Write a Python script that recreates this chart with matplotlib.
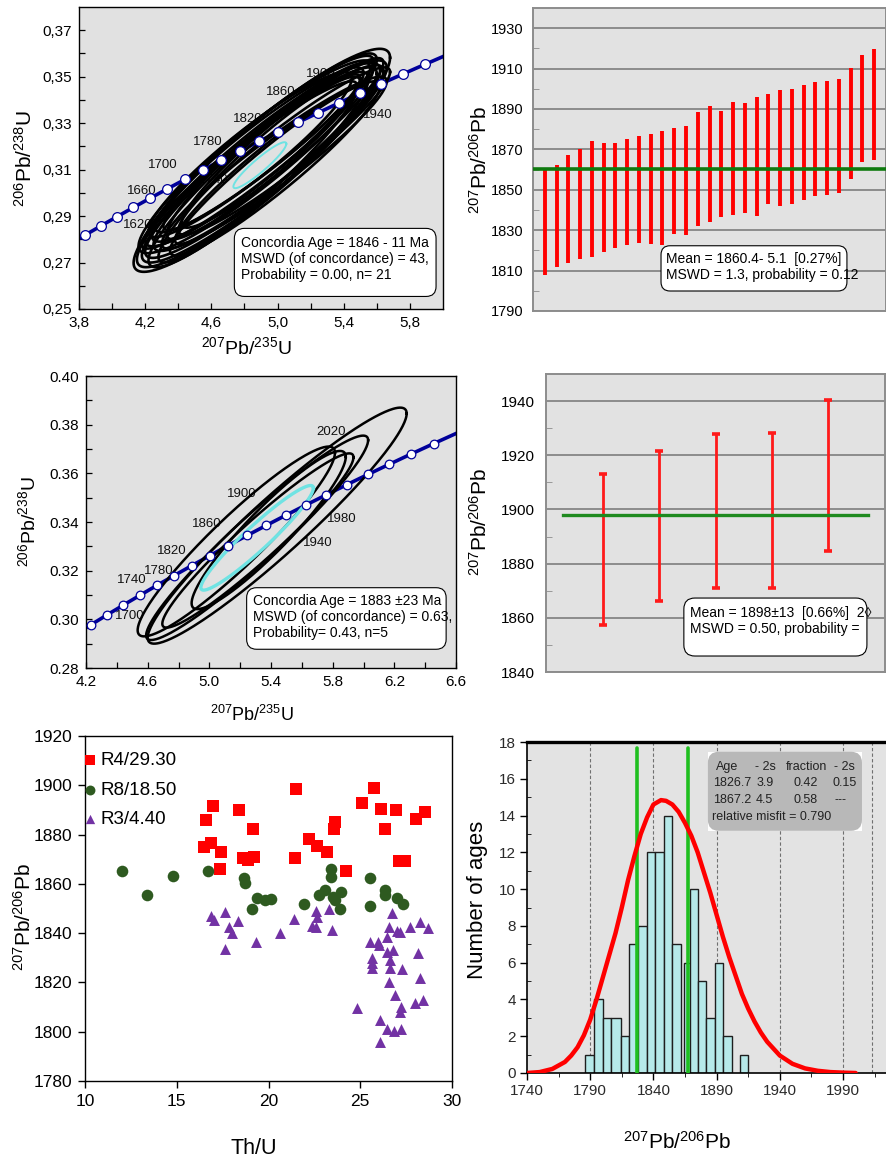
import numpy as np
import matplotlib
matplotlib.use('Agg')
from matplotlib import pyplot as plt
from matplotlib.patches import FancyBboxPatch, Rectangle

W, H = 887, 1159

plt.rcParams['font.family'] = ['Liberation Sans', 'DejaVu Sans']
plt.rcParams['mathtext.fontset'] = 'custom'
plt.rcParams['mathtext.rm'] = 'Liberation Sans'
plt.rcParams['mathtext.it'] = 'Liberation Sans:italic'
plt.rcParams['mathtext.bf'] = 'Liberation Sans:bold'

# decay constants (1/yr) for the concordia curve
LAMBDA_238 = 1.55125e-10
LAMBDA_235 = 9.8485e-10

# ---- panel a: concordia, 21 analyses ----
conc_ages_a = list(range(1600, 1961, 20))
conc_labels_a = ['1620', '1660', '1700', '1740', '1780', '1820', '1860', '1900', '1940']
conc_label_x_a = [4.156, 4.177, 4.308, 4.616, 4.581, 4.818, 5.017, 5.26, 5.604]
conc_label_y_a = [0.286, 0.301, 0.3118, 0.3056, 0.3217, 0.332, 0.3433, 0.3512, 0.3337]
# error ellipses: centre, half extents and correlation
ell_cx_a = [4.905, 4.885, 4.92, 4.90, 4.885, 4.87, 4.945, 4.89, 4.86, 4.98, 4.945, 4.835, 4.985, 4.92, 5.04, 4.83, 4.96, 4.92, 4.905, 5.03]
ell_cy_a = [0.314, 0.312, 0.3135, 0.313, 0.310, 0.3155, 0.315, 0.310, 0.3155, 0.313, 0.318, 0.3165, 0.3105, 0.321, 0.318, 0.312, 0.312, 0.3195, 0.3175, 0.3215]
ell_sx_a = [0.775, 0.735, 0.74, 0.70, 0.665, 0.71, 0.695, 0.61, 0.66, 0.68, 0.615, 0.615, 0.635, 0.66, 0.64, 0.65, 0.58, 0.68, 0.595, 0.61]
ell_sy_a = [0.048, 0.044, 0.0435, 0.041, 0.042, 0.0415, 0.040, 0.040, 0.0385, 0.037, 0.038, 0.0355, 0.0375, 0.038, 0.036, 0.036, 0.034, 0.0405, 0.0335, 0.0365]
ell_rho_a = [0.92, 0.925, 0.93, 0.935, 0.93, 0.925, 0.935, 0.94, 0.935, 0.945, 0.94, 0.93, 0.945, 0.94, 0.945, 0.95, 0.95, 0.935, 0.95, 0.945]
cyan_a = (4.893, 0.3119, 0.16, 0.0099, 0.93)
box_lines_a = ['Concordia Age = 1846 - 11 Ma', 'MSWD (of concordance) = 43,', 'Probability = 0.00, n= 21']

# ---- panel b: 207Pb/206Pb ages, 29 analyses ----
b_low = [1807.6, 1811.7, 1814.0, 1815.5, 1816.7, 1819.0, 1821.1, 1822.6, 1823.5, 1823.0,
         1822.6, 1827.9, 1827.4, 1832.2, 1834.2, 1836.6, 1837.5, 1838.7, 1837.1, 1843.2,
         1841.9, 1843.0, 1844.8, 1846.7, 1847.2, 1848.6, 1855.3, 1863.7, 1864.7]
b_high = [1860.5, 1862.1, 1867.2, 1870.2, 1874.2, 1873.2, 1873.2, 1875.2, 1876.6, 1877.6,
          1879.0, 1880.6, 1881.6, 1888.6, 1891.6, 1889.2, 1893.5, 1893.2, 1895.9, 1897.5,
          1899.3, 1900.0, 1902.0, 1903.5, 1904.1, 1905.0, 1910.4, 1916.9, 1919.9]
b_mean = 1860.4
box_lines_b = ['Mean = 1860.4- 5.1  [0.27%]', 'MSWD = 1.3, probability = 0.12']

# ---- panel c: concordia, 5 analyses ----
conc_ages_c = list(range(1680, 2041, 20))
conc_labels_c = ['1700', '1740', '1780', '1820', '1860', '1900', '1940', '1980', '2020']
conc_label_x_c = [4.482, 4.5, 4.669, 4.754, 4.982, 5.212, 5.705, 5.861, 5.787]
conc_label_y_c = [0.3014, 0.3162, 0.320, 0.3282, 0.3392, 0.3515, 0.3315, 0.3414, 0.3771]
ell_cx_c = [5.44, 5.31, 5.315, 5.175, 5.385]
ell_cy_c = [0.3385, 0.3335, 0.3324, 0.332, 0.3367]
ell_sx_c = [0.84, 0.72, 0.62, 0.64, 0.50]
ell_sy_c = [0.0485, 0.042, 0.0358, 0.039, 0.0325]
ell_rho_c = [0.95, 0.955, 0.955, 0.935, 0.925]
cyan_c = (5.31, 0.3335, 0.365, 0.0215, 0.95)
box_lines_c = ['Concordia Age = 1883 \u00b123 Ma', 'MSWD (of concordance) = 0.63,', 'Probability= 0.43, n=5']

# ---- panel d: 207Pb/206Pb ages, 5 analyses ----
d_low = [1857.5, 1866.2, 1871.0, 1871.0, 1884.6]
d_high = [1913.1, 1921.6, 1927.7, 1928.3, 1940.5]
d_mean = 1898.0
box_lines_d = ['Mean = 1898\u00b113  [0.66%]  2\u25ca', 'MSWD = 0.50, probability =']

# ---- panel e: age vs Th/U ----
r4_thu = [16.49, 16.85, 16.6, 16.96, 17.4, 17.33, 18.38, 18.6, 18.9, 19.2, 19.13, 21.5, 21.45, 22.2,
          22.64, 23.18, 23.55, 23.64, 24.24, 25.09, 25.76, 26.15, 26.36, 26.95, 27.09, 27.42, 28.04, 28.55]
r4_age = [1874.8, 1876.4, 1885.9, 1891.6, 1872.9, 1866.0, 1889.9, 1870.6, 1869.6, 1871.0, 1882.1, 1898.5,
          1870.3, 1878.2, 1875.3, 1873.0, 1882.1, 1884.9, 1865.3, 1892.9, 1898.7, 1890.2, 1882.1, 1889.8,
          1869.4, 1869.4, 1886.3, 1889.3]
r8_thu = [12.0, 13.4, 14.8, 16.73, 18.67, 18.73, 19.09, 19.36, 19.82, 20.13, 21.91, 22.76, 23.09, 23.4,
          23.4, 23.51, 23.91, 23.96, 23.64, 25.55, 25.55, 26.36, 26.36, 27.0, 27.33]
r8_age = [1865.2, 1855.5, 1863.3, 1865.2, 1862.5, 1860.2, 1850.0, 1854.3, 1853.4, 1853.8, 1852.0, 1855.5,
          1857.7, 1866.0, 1862.9, 1854.7, 1850.0, 1856.5, 1853.4, 1862.5, 1850.9, 1857.7, 1855.5, 1854.1,
          1852.0]
r3_thu = [16.87, 17.05, 17.64, 17.64, 17.87, 18.0, 18.36, 19.31, 20.6, 21.4, 22.36, 22.6, 22.6, 22.64,
          23.31, 23.45, 26.73, 26.55, 27.0, 27.18, 27.73, 28.27, 28.68, 25.55, 25.95, 26.0, 26.46, 26.46,
          26.79, 25.64, 25.64, 25.64, 26.6, 26.6, 28.15, 27.28, 26.55, 28.24, 26.91, 27.24, 27.15, 28.0,
          28.4, 24.82, 26.06, 26.46, 26.82, 27.22, 26.09]
r3_age = [1847.0, 1845.3, 1848.6, 1833.6, 1842.3, 1840.1, 1845.0, 1836.5, 1840.2, 1845.9, 1842.8, 1842.5,
          1848.9, 1846.6, 1850.0, 1841.2, 1848.1, 1842.4, 1841.0, 1840.6, 1842.4, 1844.5, 1842.0, 1836.6,
          1836.6, 1835.2, 1838.6, 1832.5, 1833.2, 1829.8, 1827.8, 1825.8, 1829.1, 1825.8, 1832.1, 1825.4,
          1820.3, 1821.7, 1814.9, 1809.9, 1807.8, 1811.6, 1812.9, 1809.8, 1804.8, 1801.0, 1800.4, 1801.0,
          1795.8]
series_names = ['R4/29.30', 'R8/18.50', 'R3/4.40']

# ---- panel f: age histogram with probability curve ----
hist_left = [1786.1, 1792.9, 1799.8, 1806.8, 1814.0, 1820.8, 1827.9, 1834.7, 1841.6, 1848.2,
             1855.0, 1864.2, 1868.7, 1875.2, 1881.9, 1888.4, 1895.0, 1908.2]
hist_right = [1792.9, 1799.8, 1806.8, 1814.0, 1820.8, 1827.9, 1834.7, 1841.6, 1848.2, 1855.0,
              1861.8, 1870.0, 1875.2, 1881.9, 1888.4, 1895.0, 1901.8, 1915.0]
hist_count = [1, 4, 3, 3, 2, 7, 8, 12, 12, 14, 7, 6, 10, 5, 3, 6, 2, 1]
curve_age = [1740, 1750, 1760, 1770, 1775, 1780, 1785, 1790, 1795, 1800, 1805, 1810, 1815, 1820, 1825,
             1830, 1835, 1840, 1846, 1850, 1855, 1860, 1865, 1870, 1875, 1880, 1885, 1890, 1895, 1900,
             1905, 1910, 1915, 1920, 1925, 1930, 1940, 1950, 1960, 1970, 1980, 1990, 2000]
curve_n = [0.0, 0.05, 0.22, 0.6, 0.95, 1.4, 2.05, 2.9, 4.0, 5.2, 6.4, 7.6, 9.0, 10.5, 11.8,
           13.0, 13.9, 14.6, 14.84, 14.8, 14.6, 14.2, 13.6, 12.9, 12.0, 10.9, 9.8, 8.6, 7.4, 6.3,
           5.3, 4.3, 3.5, 2.8, 2.2, 1.7, 0.95, 0.5, 0.25, 0.12, 0.05, 0.02, 0.0]
peak_ages = [1826.7, 1867.2]
mix_table = [['Age', '- 2s', 'fraction', '- 2s'],
             ['1826.7', '3.9', '0.42', '0.15'],
             ['1867.2', '4.5', '0.58', '---']]
misfit_text = 'relative misfit = 0.790'


def px_axes(fig, box):
    left, top, right, bottom = box
    return fig.add_axes([left / W, 1 - bottom / H, (right - left) / W, (bottom - top) / H])


def place_labels(ax, box, xlab=None, ylab=None):
    left, top, right, bottom = box
    w, h = right - left, bottom - top
    if xlab is not None:
        ax.xaxis.set_label_coords((xlab[0] - left) / w, (bottom - xlab[1]) / h)
    if ylab is not None:
        ax.yaxis.set_label_coords((ylab[0] - left) / w, (bottom - ylab[1]) / h)


def rounded_box(ax, box, x0, y0, x1, y1, r_px=9, fc='white', ec='black', lw=0.8):
    """rounded rectangle given in data coords, corners kept circular on screen"""
    ax0, ay0 = ax.transLimits.transform((x0, y0))
    ax1, ay1 = ax.transLimits.transform((x1, y1))
    axw = box[2] - box[0]
    axh = box[3] - box[1]
    patch = FancyBboxPatch((ax0, ay0), ax1 - ax0, ay1 - ay0,
                           boxstyle=f'round,pad=0,rounding_size={r_px / axw}',
                           mutation_aspect=axw / axh, transform=ax.transAxes,
                           fc=fc, ec=ec, lw=lw, zorder=6)
    ax.add_patch(patch)
    return ax0, ay0, ax1, ay1


def concordia(ages_ma):
    t = np.asarray(ages_ma, dtype=float) * 1e6
    return np.expm1(LAMBDA_235 * t), np.expm1(LAMBDA_238 * t)


def ellipse_xy(cx, cy, sx, sy, rho, n=300):
    th = np.linspace(0, 2 * np.pi, n)
    x = cx + sx * np.cos(th)
    y = cy + sy * (rho * np.cos(th) + np.sqrt(1 - rho ** 2) * np.sin(th))
    return x, y


def concordia_panel(ax, t_range, marker_ages, labels, lab_x, lab_y,
                    cx, cy, sx, sy, rho, cyan, ell_lw, cyan_lw, ms):
    for lab, x, y in zip(labels, lab_x, lab_y):
        ax.text(x, y, lab, fontsize=9.5, ha='center', va='center', color='#111111', zorder=1)
    for i in range(len(cx)):
        ex, ey = ellipse_xy(cx[i], cy[i], sx[i], sy[i], rho[i])
        ax.plot(ex, ey, color='black', lw=ell_lw, zorder=3)
    ex, ey = ellipse_xy(*cyan)
    ax.plot(ex, ey, color='#6fe3e3', lw=cyan_lw, zorder=4)
    tt = np.linspace(t_range[0], t_range[1], 300)
    x75, y68 = concordia(tt)
    ax.plot(x75, y68, color='#00009a', lw=2.6, zorder=2)
    mx, my = concordia(marker_ages)
    ax.plot(mx, my, 'o', ms=ms, mfc='white', mec='#00009a', mew=0.9, zorder=5)
    ax.set_facecolor('#e1e1e1')
    for s in ax.spines.values():
        s.set_color('black')
        s.set_linewidth(1.0)
    ax.tick_params(which='both', direction='in', length=4, width=0.9, labelsize=11, pad=5)


fig = plt.figure(figsize=(W / 100, H / 100), dpi=100)

# ---------- panel a ----------
box_a = (79, 7, 443, 309)
ax = px_axes(fig, box_a)
ax.set_xlim(3.8, 6.0)
ax.set_ylim(0.25, 0.38)
concordia_panel(ax, (1550, 2000), conc_ages_a, conc_labels_a, conc_label_x_a, conc_label_y_a,
                ell_cx_a, ell_cy_a, ell_sx_a, ell_sy_a, ell_rho_a, cyan_a, 1.9, 1.4, 7.0)
xt = [3.8, 4.2, 4.6, 5.0, 5.4, 5.8]
yt = [0.25, 0.27, 0.29, 0.31, 0.33, 0.35, 0.37]
ax.set_xticks(xt, [f'{v:.1f}'.replace('.', ',') for v in xt])
ax.set_yticks(yt, [f'{v:.2f}'.replace('.', ',') for v in yt])
ax.set_xticks(np.arange(4.0, 6.0, 0.4), minor=True)
ax.set_yticks(np.arange(0.26, 0.38, 0.02), minor=True)
ax.set_xlabel(r'$^{207}$Pb/$^{235}$U', fontsize=14, va='center')
ax.set_ylabel(r'$^{206}$Pb/$^{238}$U', fontsize=15, va='center')
place_labels(ax, box_a, xlab=(246, 347), ylab=(25, 158))
rounded_box(ax, box_a, 4.739, 0.2554, 5.958, 0.2847, r_px=10)
for line, y in zip(box_lines_a, [0.2784, 0.2716, 0.2648]):
    ax.text(4.778, y, line, fontsize=10, va='center', ha='left', zorder=7)

# ---------- panel b ----------
box_b = (533, 8, 886, 311)
ax = px_axes(fig, box_b)
ax.set_xlim(0, 30)
ax.set_ylim(1790, 1940)
ax.set_facecolor('#e2e2e2')
ax.set_yticks(np.arange(1790, 1931, 20))
ax.set_yticks(np.arange(1800, 1940, 20), minor=True)
ax.set_xticks([])
ax.grid(axis='y', which='major', color='#8c8c8c', lw=1.4, zorder=0)
ax.set_axisbelow(True)
ax.tick_params(axis='y', which='major', length=0, labelsize=10.5, pad=7)
ax.tick_params(axis='y', which='minor', direction='in', length=4, color='#8c8c8c')
for s in ax.spines.values():
    s.set_color('#8c8c8c')
    s.set_linewidth(1.4)
bx = np.arange(1, len(b_low) + 1)
ax.vlines(bx, b_low, b_high, color='#ff0000', lw=2.8, zorder=3)
ax.axhline(b_mean, xmin=0.003, xmax=0.997, color='#0f7a0f', lw=2.6, zorder=4)
ax.set_ylabel(r'$^{207}$Pb/$^{206}$Pb', fontsize=15, va='center')
place_labels(ax, box_b, ylab=(480, 160))
rounded_box(ax, box_b, 10.88, 1799.9, 26.68, 1822.3, r_px=9)
for line, y in zip(box_lines_b, [1815.7, 1807.7]):
    ax.text(11.3, y, line, fontsize=10, va='center', ha='left', zorder=7)

# ---------- panel c ----------
box_c = (86, 376, 456, 668)
ax = px_axes(fig, box_c)
ax.set_xlim(4.2, 6.6)
ax.set_ylim(0.28, 0.40)
concordia_panel(ax, (1650, 2100), conc_ages_c, conc_labels_c, conc_label_x_c, conc_label_y_c,
                ell_cx_c, ell_cy_c, ell_sx_c, ell_sy_c, ell_rho_c, cyan_c, 1.8, 2.4, 6.2)
xt = [4.2, 4.6, 5.0, 5.4, 5.8, 6.2, 6.6]
yt = [0.28, 0.30, 0.32, 0.34, 0.36, 0.38, 0.40]
ax.set_xticks(xt, [f'{v:.1f}' for v in xt])
ax.set_yticks(yt, [f'{v:.2f}' for v in yt])
ax.set_xticks(np.arange(4.4, 6.6, 0.4), minor=True)
ax.set_yticks(np.arange(0.29, 0.40, 0.02), minor=True)
ax.set_xlabel(r'$^{207}$Pb/$^{235}$U', fontsize=13, va='center')
ax.set_ylabel(r'$^{206}$Pb/$^{238}$U', fontsize=14, va='center')
place_labels(ax, box_c, xlab=(252, 715), ylab=(28, 522))
rounded_box(ax, box_c, 5.242, 0.2877, 6.536, 0.313, r_px=10)
for line, y in zip(box_lines_c, [0.3074, 0.3008, 0.2945]):
    ax.text(5.281, y, line, fontsize=10, va='center', ha='left', zorder=7)

# ---------- panel d ----------
box_d = (546, 374, 885, 672)
ax = px_axes(fig, box_d)
ax.set_xlim(0, 6)
ax.set_ylim(1840, 1950)
ax.set_facecolor('#e2e2e2')
ax.set_yticks(np.arange(1840, 1941, 20))
ax.set_yticks(np.arange(1850, 1950, 20), minor=True)
ax.set_xticks([])
ax.grid(axis='y', which='major', color='#8c8c8c', lw=1.4, zorder=0)
ax.set_axisbelow(True)
ax.tick_params(axis='y', which='major', length=0, labelsize=11, pad=8)
ax.tick_params(axis='y', which='minor', direction='in', length=4, color='#8c8c8c')
for s in ax.spines.values():
    s.set_color('#8c8c8c')
    s.set_linewidth(1.4)
dx = np.arange(1, len(d_low) + 1)
d_mid = (np.array(d_low) + np.array(d_high)) / 2
d_half = (np.array(d_high) - np.array(d_low)) / 2
ax.errorbar(dx, d_mid, yerr=d_half, fmt='none', ecolor='#ff1a1a', elinewidth=2.0,
            capsize=3, capthick=2.6, zorder=3)
ax.plot([0.3, 5.7], [d_mean, d_mean], color='#1f8a1f', lw=2.4, zorder=4)
ax.set_ylabel(r'$^{207}$Pb/$^{206}$Pb', fontsize=15, va='center')
place_labels(ax, box_d, ylab=(480, 522))
rounded_box(ax, box_d, 2.44, 1845.9, 5.68, 1867.3, r_px=11)
for line, y in zip(box_lines_d, [1861.7, 1856.0]):
    ax.text(2.54, y, line, fontsize=10, va='center', ha='left', zorder=7)

# ---------- panel e ----------
box_e = (85, 736, 452, 1081)
ax = px_axes(fig, box_e)
ax.set_xlim(10, 30)
ax.set_ylim(1780, 1920)
h1 = ax.scatter(r4_thu, r4_age, s=82, marker='s', color='#ff0000', linewidths=0, zorder=3)
h2 = ax.scatter(r8_thu, r8_age, s=70, marker='o', color='#2e5a20', linewidths=0, zorder=3)
h3 = ax.scatter(r3_thu, r3_age, s=62, marker='^', color='#7232a4', linewidths=0, zorder=3)
ax.set_xticks([10, 15, 20, 25, 30])
ax.set_yticks(np.arange(1780, 1921, 20))
ax.tick_params(direction='out', length=5, width=1, labelsize=12.5, pad=4)
for s in ax.spines.values():
    s.set_color('black')
    s.set_linewidth(1.0)
ax.legend([h1, h2, h3], series_names, loc='upper left', bbox_to_anchor=(-0.005, 0.955),
          frameon=False, fontsize=13.5, handlelength=0.7, handletextpad=0.25,
          labelspacing=0.68, borderaxespad=0, borderpad=0, markerscale=0.85)
ax.set_xlabel('Th/U', fontsize=15.5, va='center')
ax.set_ylabel(r'$^{207}$Pb/$^{206}$Pb', fontsize=15, va='center')
place_labels(ax, box_e, xlab=(254, 1148), ylab=(24, 917))

# ---------- panel f ----------
box_f = (527, 742, 886, 1073)
ax = px_axes(fig, box_f)
ax.set_xlim(1740, 2024)
ax.set_ylim(0, 18)
ax.set_facecolor('#e3e3e3')
for gx in [1790, 1840, 1890, 1940, 1990, 2013]:
    ax.axvline(gx, color='#707070', lw=0.8, ls=(0, (3, 2)), zorder=0)
ax.bar(hist_left, hist_count, width=np.array(hist_right) - np.array(hist_left), align='edge',
       color='#b6e9e9', edgecolor='#1e1e1e', lw=1.0, zorder=2)
for pa in peak_ages:
    ax.plot([pa, pa], [0, 17.7], color='#1fbf1f', lw=2.6, zorder=3, solid_capstyle='round')
ax.plot(curve_age, curve_n, color='#ff0000', lw=3.2, zorder=4, solid_capstyle='round')
ax.set_xticks(np.arange(1740, 2000, 50))
ax.set_xticks(np.arange(1765, 2024, 50), minor=True)
ax.set_yticks(np.arange(0, 19, 2))
ax.set_yticks(np.arange(1, 18, 2), minor=True)
ax.tick_params(which='major', direction='out', length=5, width=1, labelsize=11, pad=3,
               labelcolor='#2a2a2a')
ax.tick_params(axis='x', which='minor', direction='out', length=3)
ax.tick_params(axis='y', which='minor', direction='in', length=3)
ax.spines['top'].set_linewidth(2.4)
ax.spines['right'].set_visible(False)
ax.spines['left'].set_linewidth(1.2)
ax.spines['bottom'].set_linewidth(1.2)
ax0, ay0 = ax.transLimits.transform((1883.1, 13.17))
ax1, ay1 = ax.transLimits.transform((2005.0, 17.47))
ax.add_patch(Rectangle((ax0, ay0), ax1 - ax0, ay1 - ay0, transform=ax.transAxes,
                       fc='white', ec='none', zorder=5))
rounded_box(ax, box_f, 1883.1, 13.17, 2005.0, 17.47, r_px=11, fc='#b8b8b8', ec='none')
col_x = [[1889.8, 1920.0, 1945.0, 1983.2], [1887.5, 1921.3, 1950.8, 1981.8], [1887.5, 1921.3, 1950.8, 1983.0]]
for row, xs, y in zip(mix_table, col_x, [16.66, 15.75, 14.85]):
    for cell, x in zip(row, xs):
        ax.text(x, y, cell, fontsize=9, va='center', ha='left', color='#222222', zorder=7)
ax.text(1886.6, 13.94, misfit_text, fontsize=9, va='center', ha='left', color='#222222', zorder=7)
ax.set_xlabel(r'$^{207}$Pb/$^{206}$Pb', fontsize=15, va='center')
ax.set_ylabel('Number of ages', fontsize=16, va='center')
place_labels(ax, box_f, xlab=(677, 1142), ylab=(478, 900))

fig.savefig('out.png', dpi=100)
